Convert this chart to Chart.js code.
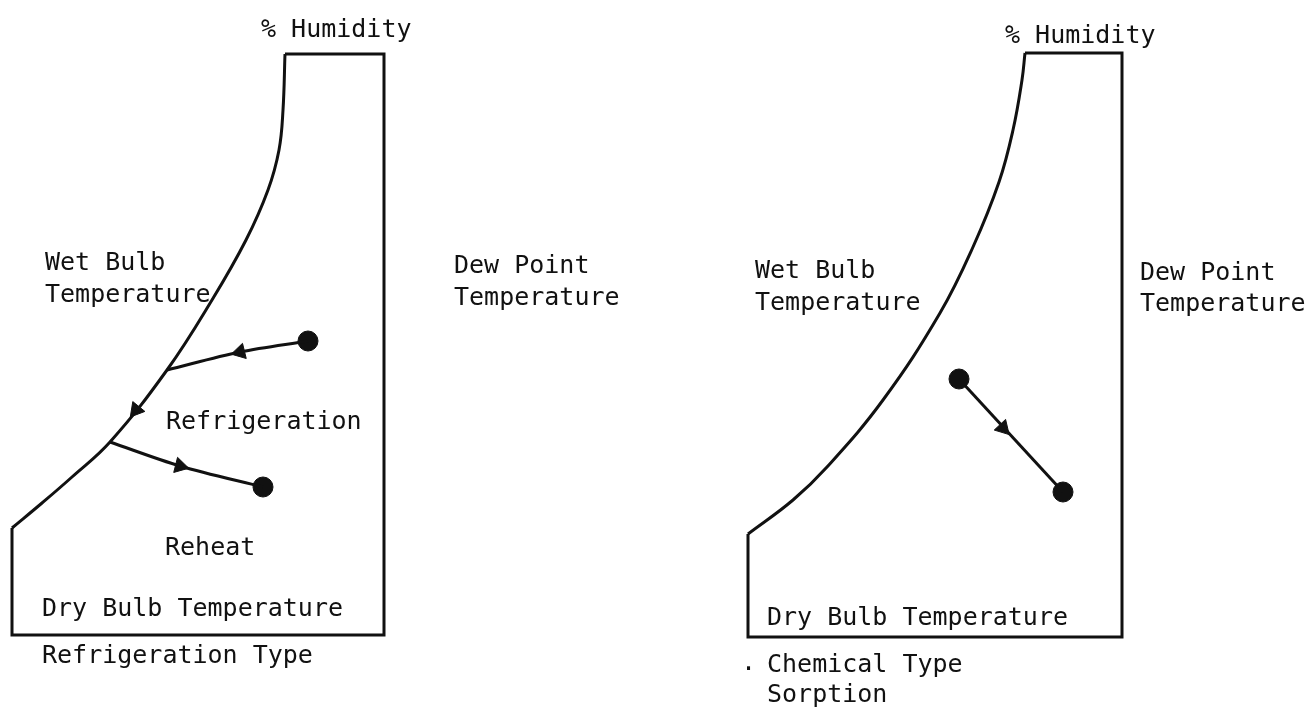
<!DOCTYPE html>
<html>
<head>
<meta charset="utf-8">
<script src="https://cdn.jsdelivr.net/npm/chart.js@4"></script>
<style>
  body { margin: 0; background: #fff; }
  #wrap { width: 1309px; height: 710px; }
</style>
</head>
<body>
<div id="wrap"><canvas id="psychroChart"></canvas></div>
<script>
// Diagram values (page units: x right, y down)

// Refrigeration type (left)
const leftBoxX = [285, 384, 384, 12, 12];
const leftBoxY = [54, 54, 635, 635, 528];
const leftCurveX = [12, 42, 72, 110, 167, 212, 246, 268, 279, 283, 285];
const leftCurveY = [528, 503, 477, 442, 370, 300, 240, 190, 150, 110, 54];
const coolPathX = [167, 240, 308];
const coolPathY = [370, 352, 341];
const reheatPathX = [110, 180, 263];
const reheatPathY = [442, 466, 487];

// Chemical / sorption type (right)
const rightBoxX = [1025, 1122, 1122, 748, 748];
const rightBoxY = [53, 53, 637, 637, 534];
const rightCurveX = [748, 793, 827, 883, 940, 973, 999, 1013, 1022, 1025];
const rightCurveY = [534, 500, 467, 400, 313, 247, 182, 130, 80, 53];
const sorbPathX = [959, 1063];
const sorbPathY = [379, 492];

// arrowheads: position + the point they aim at
const arrowX = [240, 136, 180, 1003];
const arrowY = [352, 410, 466, 428];
const arrowToX = [167, 110, 263, 1063];
const arrowToY = [370, 442, 487, 492];

// state points
const dotX = [308, 263, 959, 1063];
const dotY = [341, 487, 379, 492];

const labels = [
  { t: '% Humidity', x: 261, y: 37 },
  { t: 'Wet Bulb', x: 45, y: 270 },
  { t: 'Temperature', x: 45, y: 302 },
  { t: 'Dew Point', x: 454, y: 273 },
  { t: 'Temperature', x: 454, y: 305 },
  { t: 'Refrigeration', x: 166, y: 429 },
  { t: 'Reheat', x: 165, y: 555 },
  { t: 'Dry Bulb Temperature', x: 42, y: 616 },
  { t: 'Refrigeration Type', x: 42, y: 663 },
  { t: '% Humidity', x: 1005, y: 43 },
  { t: 'Wet Bulb', x: 755, y: 278 },
  { t: 'Temperature', x: 755, y: 310 },
  { t: 'Dew Point', x: 1140, y: 280 },
  { t: 'Temperature', x: 1140, y: 311 },
  { t: 'Dry Bulb Temperature', x: 767, y: 625 },
  { t: '.', x: 741, y: 670 },
  { t: 'Chemical Type', x: 767, y: 672 },
  { t: 'Sorption', x: 767, y: 702 }
];

const pts = (xs, ys) => xs.map((x, i) => ({ x: x, y: ys[i] }));

// curve: 'monotone', a number (bezier tension) or nothing for straight segments
function line(xs, ys, curve) {
  return {
    data: pts(xs, ys),
    showLine: true,
    borderColor: '#111',
    borderWidth: 3,
    pointRadius: 0,
    cubicInterpolationMode: curve === 'monotone' ? 'monotone' : 'default',
    tension: typeof curve === 'number' ? curve : 0,
    fill: false
  };
}

// rotation so the triangle points along the path
const arrowRot = arrowX.map((x, i) =>
  Math.atan2(arrowToX[i] - x, -(arrowToY[i] - arrowY[i])) * 180 / Math.PI);

const textPlugin = {
  id: 'diagramText',
  afterDraw(chart) {
    const { ctx, scales } = chart;
    ctx.save();
    ctx.fillStyle = '#111';
    ctx.font = '25px "DejaVu Sans Mono", monospace';
    ctx.textBaseline = 'alphabetic';
    labels.forEach(l => {
      ctx.fillText(l.t, scales.x.getPixelForValue(l.x), scales.y.getPixelForValue(l.y));
    });
    ctx.restore();
  }
};

const ctxPsy = document.getElementById('psychroChart').getContext('2d');
const psychroChart = new Chart(ctxPsy, {
  type: 'scatter',
  data: {
    datasets: [
      line(leftBoxX, leftBoxY),
      line(leftCurveX, leftCurveY, 0.4),
      line(coolPathX, coolPathY, 'monotone'),
      line(reheatPathX, reheatPathY, 'monotone'),
      line(rightBoxX, rightBoxY),
      line(rightCurveX, rightCurveY, 0.4),
      line(sorbPathX, sorbPathY),
      {
        data: pts(arrowX, arrowY),
        pointStyle: 'triangle',
        rotation: arrowRot,
        pointRadius: 9,
        backgroundColor: '#111',
        borderColor: '#111',
        borderWidth: 1
      },
      {
        data: pts(dotX, dotY),
        pointRadius: 10,
        backgroundColor: '#111',
        borderColor: '#111'
      }
    ]
  },
  options: {
    responsive: true,
    maintainAspectRatio: false,
    animation: false,
    layout: { padding: 0, autoPadding: false },
    plugins: { legend: { display: false }, tooltip: { enabled: false } },
    scales: {
      x: { type: 'linear', min: 0, max: 1309, display: false },
      y: { type: 'linear', min: 0, max: 710, reverse: true, display: false }
    }
  },
  plugins: [textPlugin]
});
</script>
</body>
</html>
